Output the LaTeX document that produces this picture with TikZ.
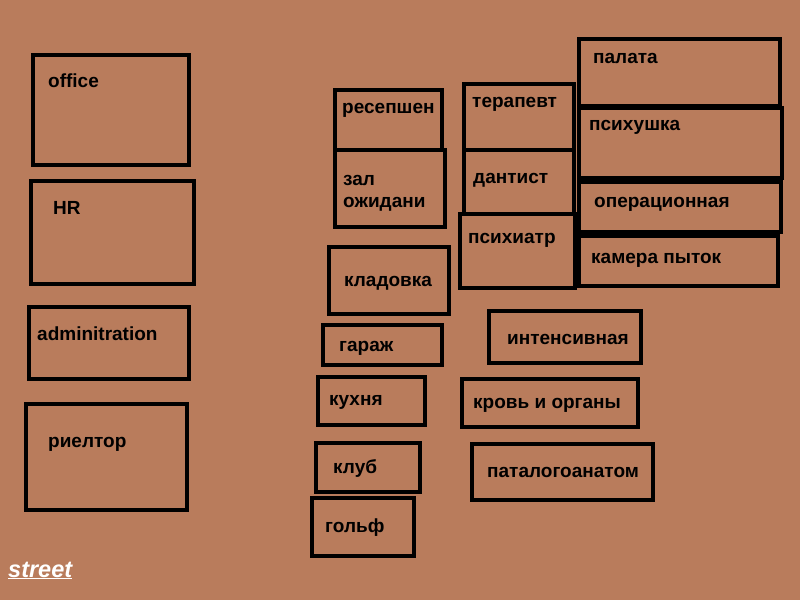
\documentclass[tikz,border=0pt]{standalone}
\usepackage{fontspec}
\setmainfont{Liberation Sans}
\definecolor{bg}{RGB}{185,124,92}
\tikzset{
  room/.style={draw=black, line width=4.8pt, rectangle, inner sep=0pt, outer sep=0pt},
  lbl/.style={anchor=base west, inner sep=0pt, font=\fontsize{19}{22}\selectfont\bfseries, text=black, align=left},
  streetlbl/.style={anchor=base west, inner sep=0pt, font=\fontsize{23.5}{26}\selectfont\bfseries\itshape, text=white}
}
\newcommand\myroom[8]{%
  \node[room, anchor=north west, minimum width={(#4-#2)*1pt}, minimum height={(#5-#3)*1pt}] (#1) at (#2,#3) {};
  \node[lbl] (#1-t) at (#6,#7) {#8};
}
\begin{document}
\begin{tikzpicture}[x=1pt,y=-1pt]
\fill[bg] (0,0) rectangle (800,600);
\useasboundingbox (0,0) rectangle (800,600);
\myroom{office}{33}{55}{189}{165}{48}{87}{office}
\myroom{hr}{31}{181}{194}{284}{53}{214}{HR}
\myroom{admin}{29}{307}{189}{379}{37}{340}{adminitration}
\myroom{realtor}{26}{404}{187}{510}{48}{447}{риелтор}
\myroom{reception}{335}{90}{442}{150}{342}{113}{ресепшен}
\myroom{waiting}{335}{150}{445}{227}{343}{207}{зал\\ожидани}
\myroom{storage}{329}{247}{449}{314}{344}{286}{кладовка}
\myroom{garage}{323}{325}{442}{365}{339}{351}{гараж}
\myroom{kitchen}{318}{377}{425}{425}{329}{405}{кухня}
\myroom{club}{316}{443}{420}{492}{333}{473}{клуб}
\myroom{golf}{312}{498}{414}{556}{325}{532}{гольф}
\myroom{therapist}{464}{84}{574}{150}{472}{107}{терапевт}
\myroom{dentist}{464}{150}{574}{214}{473}{183}{дантист}
\myroom{psychiatrist}{460}{214}{575}{288}{468}{243}{психиатр}
\myroom{ward}{579}{39}{780}{106}{593}{63}{палата}
\myroom{psych}{579}{108}{782}{178}{589}{130}{психушка}
\myroom{operating}{579}{182}{781}{232}{594}{207}{операционная}
\myroom{torture}{579}{236}{778}{286}{591}{263}{камера пыток}
\myroom{intensive}{489}{311}{641}{363}{507}{344}{интенсивная}
\myroom{blood}{462}{379}{638}{427}{473}{408}{кровь и органы}
\myroom{patho}{472}{444}{653}{500}{487}{477}{паталогоанатом}
\node[streetlbl] (street) at (8,577) {\underline{street}};
\end{tikzpicture}
\end{document}
